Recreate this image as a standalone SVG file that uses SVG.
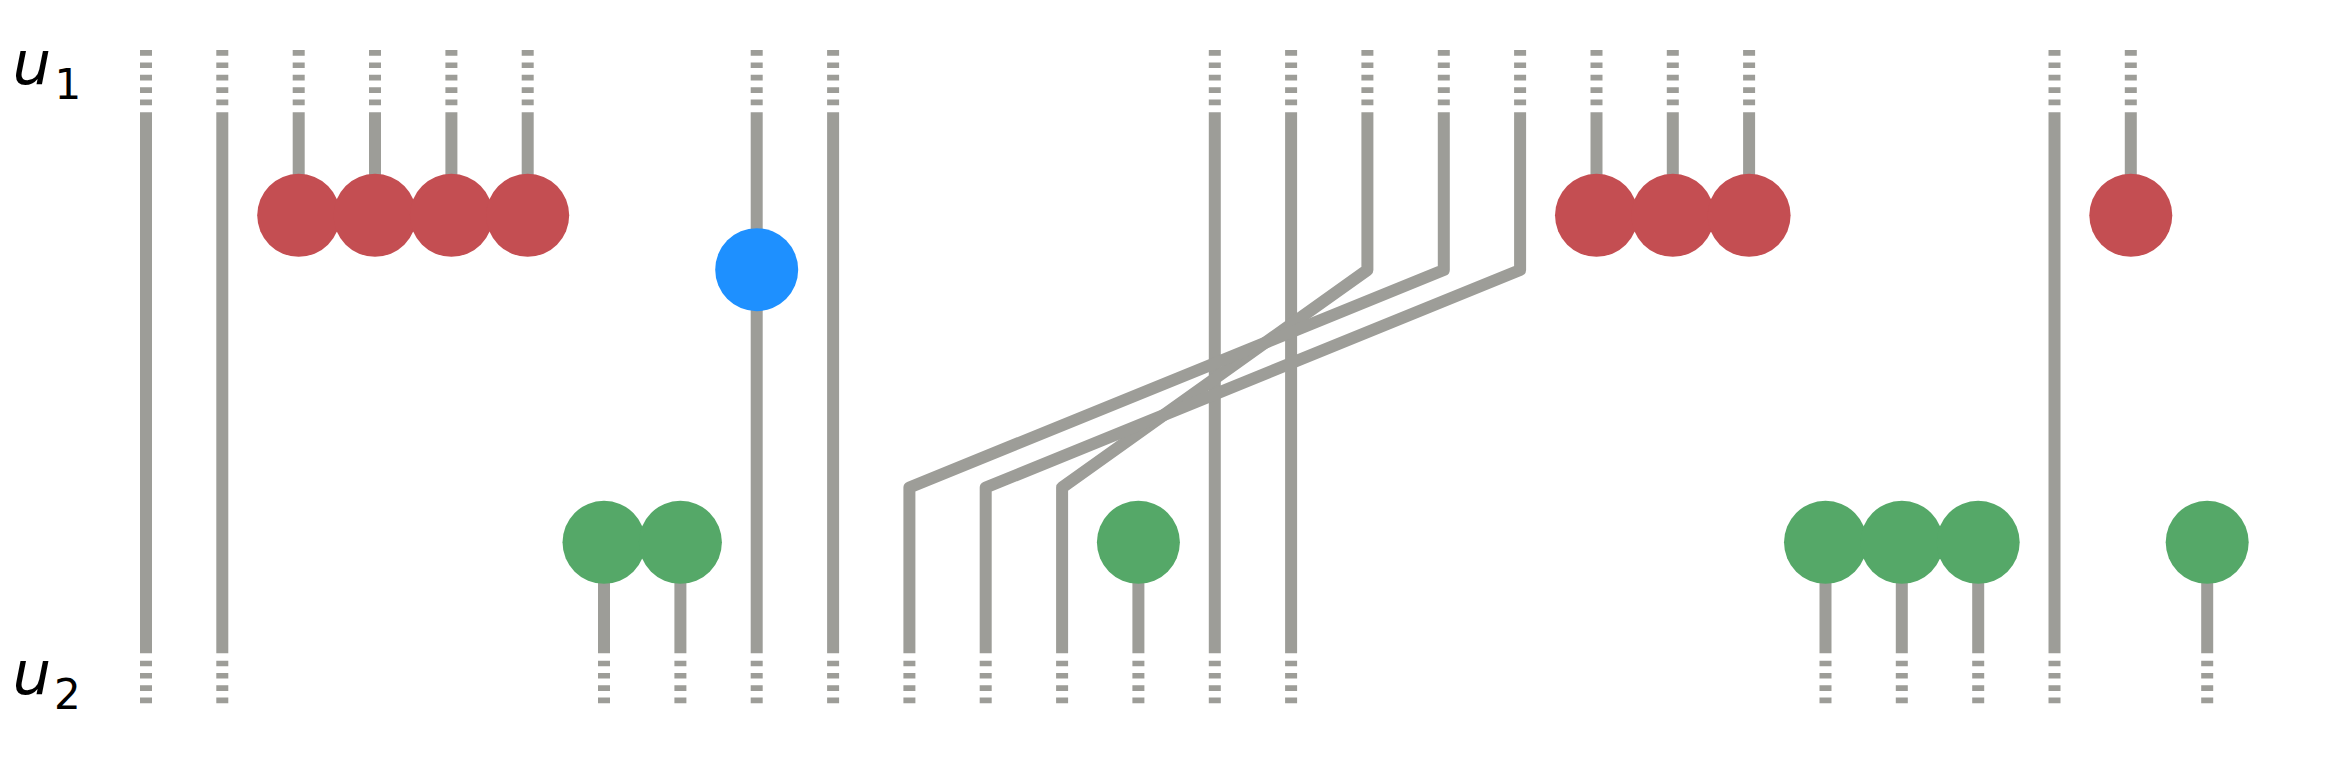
<svg xmlns="http://www.w3.org/2000/svg" xmlns:xlink="http://www.w3.org/1999/xlink" width="2342" height="772" viewBox="0 0 2342 772">
<style>
.w{fill:none;stroke:#9d9d98;stroke-width:12;stroke-linejoin:round;stroke-linecap:butt}
.dt{fill:none;stroke:#9d9d98;stroke-width:12;stroke-dasharray:5.7 6.7}
.db{fill:none;stroke:#9d9d98;stroke-width:12;stroke-dasharray:5.6 6.7}
.red{fill:#c44e52}
.green{fill:#55a868}
.blue{fill:#1e90ff}
.lab{font-family:"DejaVu Sans","Liberation Sans",sans-serif;fill:#000}
</style>
<defs>
<path id="td" class="dt" d="M0 50V105.7"/>
<path id="bd" class="db" d="M0 660.7V703.3"/>
</defs>
<rect width="2342" height="772" fill="#fff"/>
<g id="labels">
<text class="lab" x="12.5" y="84.3" font-size="61" font-style="italic">u</text>
<text class="lab" x="54.5" y="99.3" font-size="42">1</text>
<text class="lab" x="12.5" y="694.3" font-size="61" font-style="italic">u</text>
<text class="lab" x="54" y="709" font-size="42">2</text>
</g>
<g id="connectors">
<g id="wire-full">
<use href="#td" x="146"/><path class="w" d="M146 112.3V653.3"/><use href="#bd" x="146"/>
<use href="#td" x="222.3"/><path class="w" d="M222.3 112.3V653.3"/><use href="#bd" x="222.3"/>
<use href="#td" x="756.7"/><path class="w" d="M756.7 112.3V653.3"/><use href="#bd" x="756.7"/>
<use href="#td" x="833.1"/><path class="w" d="M833.1 112.3V653.3"/><use href="#bd" x="833.1"/>
<use href="#td" x="1214.8"/><path class="w" d="M1214.8 112.3V653.3"/><use href="#bd" x="1214.8"/>
<use href="#td" x="1291.1"/><path class="w" d="M1291.1 112.3V653.3"/><use href="#bd" x="1291.1"/>
<use href="#td" x="2054.5"/><path class="w" d="M2054.5 112.3V653.3"/><use href="#bd" x="2054.5"/>
</g>
<g id="wire-top">
<use href="#td" x="298.7"/><path class="w" d="M298.7 112.3V215.3"/>
<use href="#td" x="375"/><path class="w" d="M375 112.3V215.3"/>
<use href="#td" x="451.4"/><path class="w" d="M451.4 112.3V215.3"/>
<use href="#td" x="527.7"/><path class="w" d="M527.7 112.3V215.3"/>
<use href="#td" x="1596.5"/><path class="w" d="M1596.5 112.3V215.3"/>
<use href="#td" x="1672.8"/><path class="w" d="M1672.8 112.3V215.3"/>
<use href="#td" x="1749.1"/><path class="w" d="M1749.1 112.3V215.3"/>
<use href="#td" x="2130.8"/><path class="w" d="M2130.8 112.3V215.3"/>
</g>
<g id="wire-bottom">
<path class="w" d="M604 542.3V653.3"/><use href="#bd" x="604"/>
<path class="w" d="M680.4 542.3V653.3"/><use href="#bd" x="680.4"/>
<path class="w" d="M1138.4 542.3V653.3"/><use href="#bd" x="1138.4"/>
<path class="w" d="M1825.5 542.3V653.3"/><use href="#bd" x="1825.5"/>
<path class="w" d="M1901.8 542.3V653.3"/><use href="#bd" x="1901.8"/>
<path class="w" d="M1978.2 542.3V653.3"/><use href="#bd" x="1978.2"/>
<path class="w" d="M2207.2 542.3V653.3"/><use href="#bd" x="2207.2"/>
</g>
<g id="wire-cross">
<use href="#td" x="1367.4"/><path class="w" d="M1367.4 112.3V270L1062.1 487.5V653.3"/><use href="#bd" x="1062.1"/>
<use href="#td" x="1443.8"/><path class="w" d="M1443.8 112.3V270L909.4 487.5V653.3"/><use href="#bd" x="909.4"/>
<use href="#td" x="1520.1"/><path class="w" d="M1520.1 112.3V270L985.7 487.5V653.3"/><use href="#bd" x="985.7"/>
</g>
</g>
<g id="nodes">
<g id="r1"><circle class="red" cx="298.7" cy="215.3" r="41.5"/></g>
<g id="r2"><circle class="red" cx="375" cy="215.3" r="41.5"/></g>
<g id="r3"><circle class="red" cx="451.4" cy="215.3" r="41.5"/></g>
<g id="r4"><circle class="red" cx="527.7" cy="215.3" r="41.5"/></g>
<g id="b1"><circle class="blue" cx="756.7" cy="269.7" r="41.5"/></g>
<g id="g1"><circle class="green" cx="604" cy="542.3" r="41.5"/></g>
<g id="g2"><circle class="green" cx="680.4" cy="542.3" r="41.5"/></g>
<g id="g3"><circle class="green" cx="1138.4" cy="542.3" r="41.5"/></g>
<g id="r5"><circle class="red" cx="1596.5" cy="215.3" r="41.5"/></g>
<g id="r6"><circle class="red" cx="1672.8" cy="215.3" r="41.5"/></g>
<g id="r7"><circle class="red" cx="1749.1" cy="215.3" r="41.5"/></g>
<g id="g4"><circle class="green" cx="1825.5" cy="542.3" r="41.5"/></g>
<g id="g5"><circle class="green" cx="1901.8" cy="542.3" r="41.5"/></g>
<g id="g6"><circle class="green" cx="1978.2" cy="542.3" r="41.5"/></g>
<g id="r8"><circle class="red" cx="2130.8" cy="215.3" r="41.5"/></g>
<g id="g7"><circle class="green" cx="2207.2" cy="542.3" r="41.5"/></g>
</g>
</svg>
